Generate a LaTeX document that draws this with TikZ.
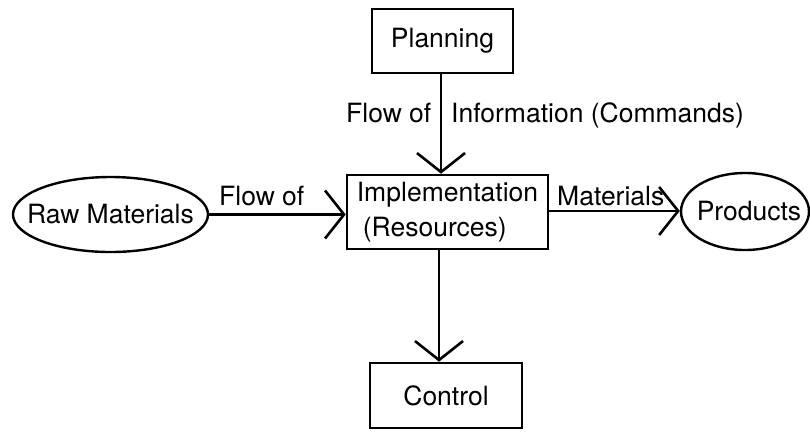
\documentclass[tikz,border=0pt]{standalone}
\usepackage{fontspec}
\setmainfont{TeX Gyre Heros}
\usetikzlibrary{shapes.geometric,arrows.meta}

\begin{document}
\begin{tikzpicture}[x=1pt,y=-1pt,
  every node/.style={font=\fontsize{26.5}{35}\selectfont, inner sep=0pt},
  box/.style={draw, line width=2.6pt, rectangle},
  oval/.style={draw, line width=2.4pt, ellipse},
  flow/.style={line width=2.4pt, -{Straight Barb[length=19pt,width=48pt,line width=2.6pt]}},
  lbl/.style={anchor=base west}]
  \useasboundingbox (0,0) rectangle (810,432);

  % blocks
  \node[box, minimum width=141pt, minimum height=64pt] (plan) at (442.5,41) {Planning};
  \node[box, minimum width=201pt, minimum height=74pt, align=left] (impl) at (447.5,212)
    {Implementation\\\hspace*{6pt}(Resources)};
  \node[box, minimum width=152pt, minimum height=65pt] (ctrl) at (446,395.5) {Control};
  % the ovals keep their own size; the text is set in a zero-width box
  \node[oval, minimum width=195pt, minimum height=75pt] (raw) at (110.5,214.5)
    {\makebox[0pt]{Raw Materials}};
  \node[oval, minimum width=128pt, minimum height=77pt] (prod) at (745,211.5)
    {\makebox[0pt]{\hspace*{8pt}Products}};

  % connectors
  \draw[flow] ([xshift=-1.5pt]plan.south) -- ([xshift=-1.5pt]plan.south |- impl.north);
  \draw[flow] ([xshift=-8.5pt]impl.south) -- ([xshift=-8.5pt]impl.south |- ctrl.north);
  \draw[flow] (raw.east) -- (raw.east -| impl.west);
  \draw[flow] ([yshift=1pt]impl.east) -- ([yshift=1pt]impl.east -| prod.west);

  % flow labels
  \node[lbl] (t1) at (346,122) {Flow of};
  \node[lbl] (t2) at (451,122) {Information (Commands)};
  \node[lbl] (t3) at (219,205) {Flow of};
  \node[lbl] (t4) at (557,205) {Materials};
\end{tikzpicture}
\end{document}
